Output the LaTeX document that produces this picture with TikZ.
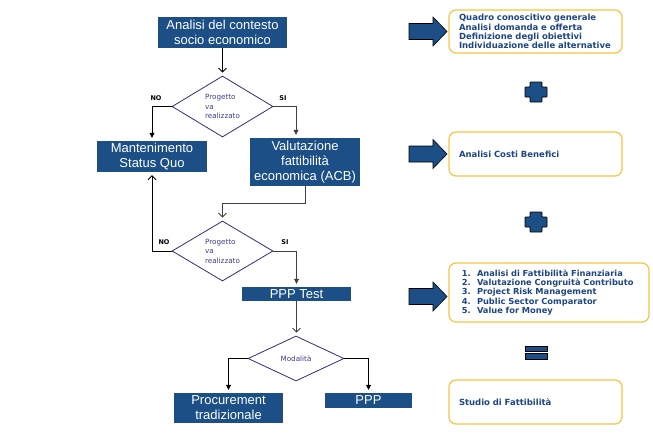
\documentclass[tikz,border=0pt]{standalone}
\usepackage{fontspec}
\setmainfont{Liberation Sans}
\newfontfamily\verdana{DejaVu Sans}
\usetikzlibrary{shapes.geometric,arrows.meta}
\definecolor{boxblue}{RGB}{27,79,133}
\definecolor{rimyellow}{RGB}{247,196,67}
\definecolor{rhombline}{RGB}{45,45,120}
\definecolor{rhombtext}{RGB}{60,60,150}
\definecolor{listblue}{RGB}{30,70,130}

\begin{document}
\begin{tikzpicture}[x=1pt,y=-1pt,
	bluebox/.style={fill=boxblue,text=white,inner sep=0pt,align=center,font=\fontsize{13}{15}\selectfont},
	rhomb/.style={diamond,draw=rhombline,line width=0.8pt,inner sep=0pt,text=rhombtext,align=left,font=\verdana\fontsize{7.2}{9.5}\selectfont},
	tag/.style={inner sep=0pt,font=\verdana\bfseries\fontsize{6.5}{7}\selectfont},
	flow/.style={line width=0.8pt,shorten >=3pt,-{Triangle[length=5pt,width=5pt]}},
	flowopen/.style={line width=0.8pt,shorten >=3pt,-{Straight Barb[length=4pt,width=8pt]}},
	note/.style={draw=rimyellow,line width=1.2pt,rounded corners=7pt,fill=white,inner sep=0pt,text=listblue,align=left,font=\verdana\bfseries\fontsize{8.5}{9.3}\selectfont},
	bigarrow/.style={fill=boxblue,draw=black,line width=0.6pt},
]
	\useasboundingbox (0,0) rectangle (653,440);

	% flow chart
	\node[bluebox,minimum width=129pt,minimum height=31pt] (ctx) at (222.5,32.5) {Analisi del contesto\\socio economico};
	\node[rhomb,minimum width=101pt,minimum height=61pt] (q1) at (222.5,106.5) {Progetto\\va\\realizzato};
	\node[bluebox,minimum width=110pt,minimum height=31pt] (keep) at (152,156.5) {Mantenimento\\Status Quo};
	\node[bluebox,minimum width=110pt,minimum height=48pt] (acb) at (305,162) {Valutazione\\fattibilità\\economica (ACB)};
	\node[rhomb,minimum width=101pt,minimum height=60pt] (q2) at (222.5,251) {Progetto\\va\\realizzato};
	\node[bluebox,minimum width=109pt,minimum height=14pt] (test) at (296.5,294) {PPP Test};
	\node[rhomb,minimum width=96pt,minimum height=45pt] (mode) at (296,358.5) {Modalità};
	\node[bluebox,minimum width=109pt,minimum height=30pt] (trad) at (228.5,408) {Procurement\\tradizionale};
	\node[bluebox,minimum width=87pt,minimum height=15pt] (ppp) at (368.5,400.5) {PPP};

	\node[tag] (no1) at (156,98) {NO};
	\node[tag] (si1) at (283,98) {SI};
	\node[tag] (no2) at (164,242) {NO};
	\node[tag] (si2) at (285,242) {SI};

	\draw[flowopen] (ctx) -- (q1);
	\draw[flow] (q1.west) -| (keep.north);
	\draw[flow,darkgray] (q1.east) -| ([xshift=-9pt]acb.north);
	\draw[flowopen,darkgray] (acb.south) -- ++(0,17) -| (q2.north);
	\draw[flowopen] (q2.west) -| (keep.south);
	\draw[flow,darkgray] (q2.east) -| (test.north);
	\draw[flowopen,darkgray] (test) -- (test |- mode.north);
	\draw[flow] (mode.west) -| (trad.north);
	\draw[flow] (mode.east) -| (ppp.north);

	% right column
	\node[note,minimum width=173pt,minimum height=43pt,text width=153pt] (know) at (535.5,31.5) {Quadro conoscitivo generale\\Analisi domanda e offerta\\Definizione degli obiettivi\\Individuazione delle alternative};
	\node[note,minimum width=173pt,minimum height=44pt,text width=153pt] (cba) at (535.5,154) {Analisi Costi Benefici};
	\node[note,minimum width=200pt,minimum height=59pt,text width=180pt,font=\verdana\bfseries\fontsize{8.3}{9.2}\selectfont] (fin) at (549,292.5) {%
		\mbox{\makebox[18pt][l]{\ 1.}Analisi di Fattibilità Finanziaria}\\
		\mbox{\makebox[18pt][l]{\ 2.}Valutazione Congruità Contributo}\\
		\mbox{\makebox[18pt][l]{\ 3.}Project Risk Management}\\
		\mbox{\makebox[18pt][l]{\ 4.}Public Sector Comparator}\\
		\mbox{\makebox[18pt][l]{\ 5.}Value for Money}};
	\node[note,minimum width=173pt,minimum height=44pt,text width=153pt] (study) at (535.5,402) {Studio di Fattibilità};

	\foreach \ay in {31.5,154,296.5} {
		\draw[bigarrow] (409,\ay-8) -- (433,\ay-8) -- (433,\ay-14.5) -- (447,\ay) -- (433,\ay+14.5) -- (433,\ay+8) -- (409,\ay+8) -- cycle;
	}
	\foreach \py in {92,222} {
		\draw[bigarrow,rounded corners=0.6pt] (530,\py-10) -- (542,\py-10) -- (542,\py-5) -- (547,\py-5) -- (547,\py+5) -- (542,\py+5) -- (542,\py+10) -- (530,\py+10) -- (530,\py+5) -- (525,\py+5) -- (525,\py-5) -- (530,\py-5) -- cycle;
	}
	\draw[bigarrow] (525,346) rectangle (547,351.5);
	\draw[bigarrow] (525,353.5) rectangle (547,359);
\end{tikzpicture}
\end{document}
